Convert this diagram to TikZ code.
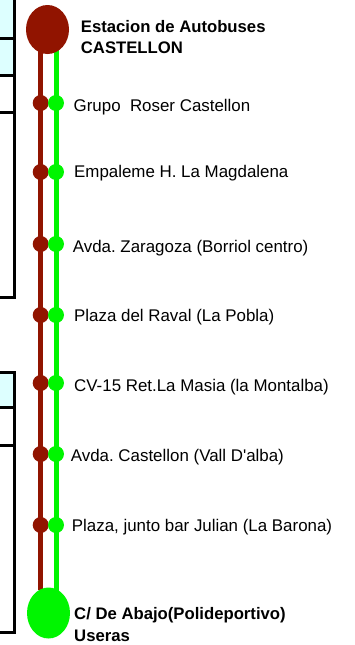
\documentclass[tikz,border=0pt]{standalone}
\usepackage{fontspec}
\setmainfont{Liberation Sans}
\usetikzlibrary{shapes.geometric}
\frenchspacing

\definecolor{railbrown}{RGB}{145,20,0}
\definecolor{railgreen}{RGB}{0,245,0}
\definecolor{cellcyan}{RGB}{221,255,255}

\tikzset{
    cell/.style={draw=black, line width=3pt},
    browndot/.style={circle, fill=railbrown, inner sep=0pt, minimum size=16pt},
    greendot/.style={circle, fill=railgreen, inner sep=0pt, minimum size=16pt},
    stoplabel/.style={anchor=base west, inner sep=0pt, font=\fontsize{16.9}{20}\selectfont},
    endlabel/.style={anchor=base west, inner sep=0pt, align=left, font=\fontsize{16.7}{#1}\selectfont\bfseries},
    endlabel/.default=20.5,
}

\begin{document}
\begin{tikzpicture}[x=1pt, y=-1pt]
        \clip (0,0) rectangle (354,645);

        % 左边被截掉的表格
        \draw[cell, fill=cellcyan] (-10,-10) rectangle (14.5,38);
        \draw[cell, fill=cellcyan] (-10,38) rectangle (14.5,75);
        \draw[cell] (-10,75) rectangle (14.5,112);
        \draw[cell] (-10,112) rectangle (14.5,297);
        \draw[cell, fill=cellcyan] (-10,372) rectangle (14.5,407);
        \draw[cell] (-10,407) rectangle (14.5,445);
        \draw[cell] (-10,445) rectangle (14.5,632);

        % 两条线路
        \coordinate (btop) at (40.7,30);
        \coordinate (bbot) at (40.7,590);
        \coordinate (gtop) at (56,30);
        \coordinate (gbot) at (56,613);
        \draw[railbrown, line width=5.5pt] (btop) -- (bbot);
        \draw[railgreen, line width=5pt] (gtop) -- (gbot);

        % 起点和终点（base 在最后一行）
        \node[ellipse, fill=railbrown, inner sep=0pt, minimum width=43pt, minimum height=49pt] (start) at (47.5,29.5) {};
        \node[ellipse, fill=railgreen, inner sep=0pt, minimum width=43pt, minimum height=51pt] (end) at (48.5,613) {};
        \node[endlabel] (startname) at (80.7,53.3) {Estacion de Autobuses\\CASTELLON};
        \node[endlabel=22.5] (endname) at (74,641.7) {C/ De Abajo(Polideportivo)\\Useras};

        % 通过foreach自动绘制各站
        \foreach \y/\by/\tx/\txt [count=\i] in {
                103/111.7/73.5/{Grupo\ \ Roser Castellon},
                172/177.3/74/{Empaleme H. La Magdalena},
                244/252.3/72.7/{Avda. Zaragoza (Borriol centro)},
                315/321/74/{Plaza del Raval (La Pobla)},
                383/391/74/{CV-15 Ret.La Masia (la Montalba)},
                454/461/70.7/{Avda. Castellon (Vall D\textquotesingle alba)},
                525/531/71.7/{Plaza, junto bar Julian (La Barona)}}
            {
                \node[browndot] (b\i) at (40.7,\y) {};
                \node[greendot] (g\i) at (56,\y) {};
                \node[stoplabel] (s\i) at (\tx,\by) {\txt};
            }
    \end{tikzpicture}
\end{document}
